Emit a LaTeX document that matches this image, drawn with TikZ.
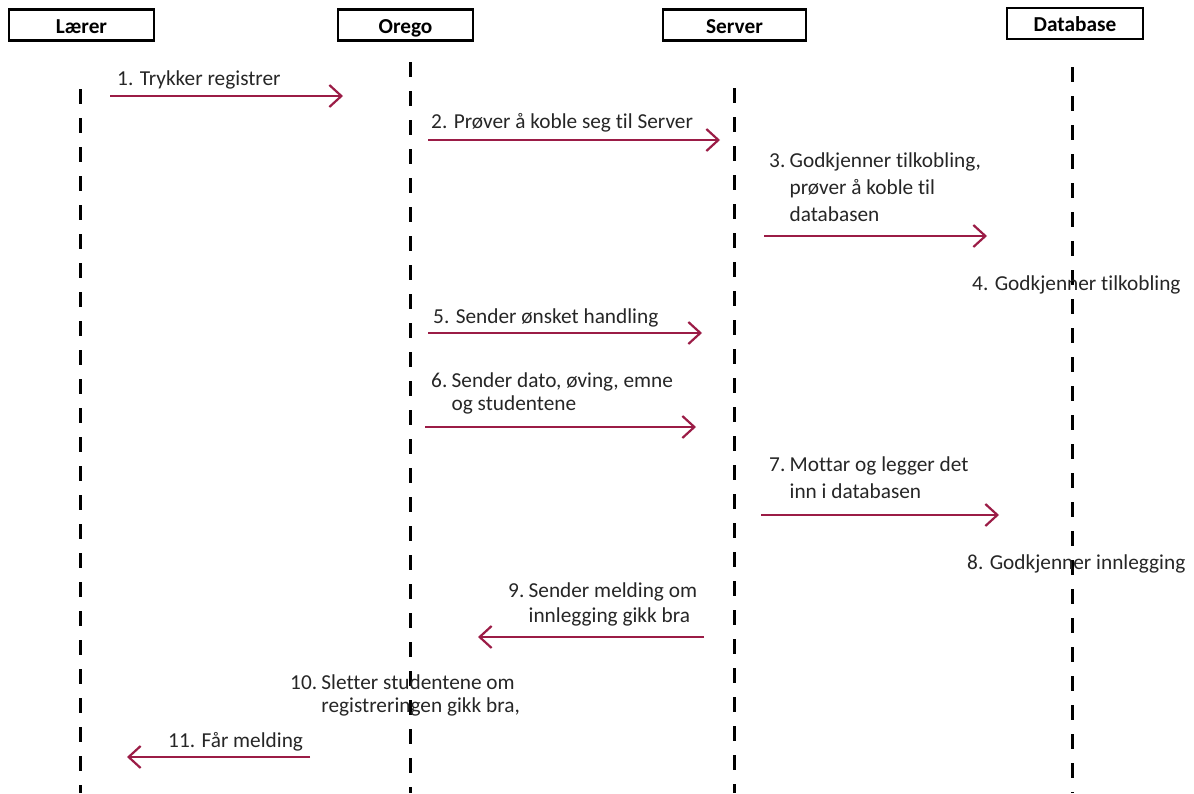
\documentclass[tikz,border=0pt]{standalone}
\usepackage{fontspec}
\setmainfont{Carlito}[Ligatures={NoCommon,NoContextual}]
\usetikzlibrary{arrows.meta}
\definecolor{msg}{RGB}{155,28,70}
\tikzset{
  header/.style={draw=black, line width=2.5pt, minimum height=31pt, inner sep=0pt, text=black, text height=14pt, text depth=0pt},
  lifeline/.style={draw=black, line width=3pt, dash pattern=on 15pt off 14pt},
  message/.style={draw=msg, line width=2.2pt, -{Straight Barb[length=12pt,width=22pt]}},
  lbl/.style={anchor=base west, inner sep=0pt, text=black!85}
}
\begin{document}
\begin{tikzpicture}[x=1pt,y=-1pt, every node/.style={font=\fontsize{21.3}{27}\selectfont}]
\useasboundingbox (0,0) rectangle (1194,793);
% headers
\node[header, minimum width=145pt] (laerer) at (81.5,25) {\bfseries\raisebox{-1pt}{Lærer}};
\node[header, minimum width=135pt] (orego) at (405.5,25) {\bfseries\raisebox{-1.5pt}{Orego}};
\node[header, minimum width=143pt] (server) at (734.5,25) {\bfseries\raisebox{-1.5pt}{Server}};
\node[header, minimum width=136pt] (database) at (1075,23.5) {\bfseries\raisebox{-0.5pt}{Database}};
% lifelines
\coordinate (Ltop) at (80,89);  \coordinate (Lbot) at (80,793);
\coordinate (Otop) at (410,62); \coordinate (Obot) at (410,793);
\coordinate (Stop) at (734,88); \coordinate (Sbot) at (734,793);
\coordinate (Dtop) at (1072,67); \coordinate (Dbot) at (1072,793);
\draw[lifeline] (Ltop) -- (Lbot);
\draw[lifeline] (Otop) -- (Obot);
\draw[lifeline] (Stop) -- (Sbot);
\draw[lifeline] (Dtop) -- (Dbot);
% message endpoints
\coordinate (m1a) at (110,96);  \coordinate (m1b) at (343,96);
\coordinate (m2a) at (428,140); \coordinate (m2b) at (720,140);
\coordinate (m3a) at (764,236); \coordinate (m3b) at (987,236);
\coordinate (m5a) at (428,333); \coordinate (m5b) at (702,333);
\coordinate (m6a) at (425,427); \coordinate (m6b) at (696,427);
\coordinate (m7a) at (761,515); \coordinate (m7b) at (999,515);
\coordinate (m9a) at (704,637); \coordinate (m9b) at (478,637);
\coordinate (m11a) at (310,757); \coordinate (m11b) at (127,757);
\draw[message] (m1a) -- (m1b);
\draw[message] (m2a) -- (m2b);
\draw[message] (m3a) -- (m3b);
\draw[message] (m5a) -- (m5b);
\draw[message] (m6a) -- (m6b);
\draw[message] (m7a) -- (m7b);
\draw[message] (m9a) -- (m9b);
\draw[message] (m11a) -- (m11b);
% labels
\node[lbl] (t1) at (117,85) {1. Trykker registrer};
\node[lbl] (t2) at (431,128) {2. Prøver å koble seg til Server};
\node[lbl] (t3) at (769,167) {\begin{tabular}[t]{@{}l@{\hspace{0.2em}}l@{}}3.&Godkjenner tilkobling,\\&prøver å koble til\\&databasen\end{tabular}};
\node[lbl] (t4) at (972,290) {4. Godkjenner tilkobling};
\node[lbl] (t5) at (433,323) {5. Sender ønsket handling};
\node[lbl] (t6) at (431,387) {\begin{tabular}[t]{@{}l@{\hspace{0.2em}}l@{}}6.&Sender dato, øving, emne\\[-4pt]&og studentene\end{tabular}};
\node[lbl] (t7) at (769,471) {\begin{tabular}[t]{@{}l@{\hspace{0.2em}}l@{}}7.&Mottar og legger det\\&inn i databasen\end{tabular}};
\node[lbl] (t8) at (967,569) {8. Godkjenner innlegging};
\node[lbl] (t9) at (508,597) {\begin{tabular}[t]{@{}l@{\hspace{0.2em}}l@{}}9.&Sender melding om\\[-2pt]&innlegging gikk bra\end{tabular}};
\node[lbl] (t10) at (290,689) {\begin{tabular}[t]{@{}l@{\hspace{0.2em}}l@{}}10.&Sletter studentene om\\[-4pt]&registreringen gikk bra,\end{tabular}};
\node[lbl] (t11) at (168,747) {11. Får melding};
\end{tikzpicture}
\end{document}
